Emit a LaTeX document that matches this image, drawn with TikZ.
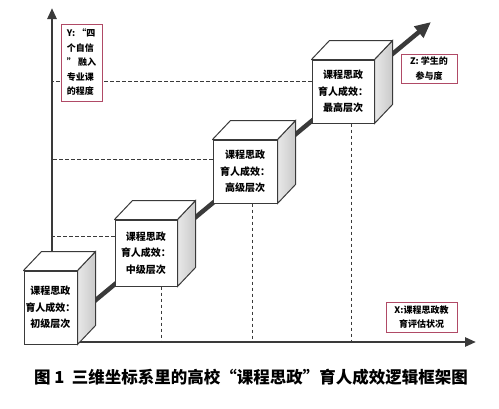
\documentclass[tikz,border=0pt]{standalone}
\usepackage{fontspec}
\usepackage{xcolor}
\usepackage{tikz}
\usetikzlibrary{positioning, arrows.meta, calc}
\newfontfamily\cjk{Noto Sans CJK SC}
\definecolor{axisgray}{HTML}{3A3A3A}
\definecolor{boxred}{HTML}{B04A66}

\begin{document}
\begin{tikzpicture}[
    x=1pt, y=-1pt,
    axis/.style={draw=axisgray, line width=2.6pt, -{Triangle[length=11pt,width=9pt]}},
    zaxis/.style={draw=axisgray, line width=4.5pt, -{Triangle[length=16pt,width=14pt]}},
    guide/.style={draw=axisgray, line width=0.7pt, dash pattern=on 3.5pt off 2.5pt},
    front/.style={draw=axisgray, line width=1pt, fill=white, inner sep=0pt, align=center,
        font=\cjk\bfseries\fontsize{10}{16.5}\selectfont},
    side/.style={draw=axisgray, line width=1pt, left color=gray!18, right color=gray!42},
    topf/.style={draw=axisgray, line width=1pt, fill=white, line join=round},
    label/.style={draw=boxred, line width=0.9pt, fill=white, inner sep=0pt,
        font=\cjk\bfseries\fontsize{9}{14.5}\selectfont}
]
\useasboundingbox (0,0) rectangle (499,408);

% axes
\coordinate (O) at (52,342);
\coordinate (ytip) at (52,8);
\coordinate (xtip) at (476,342);
\coordinate (zstart) at (56,333);
\coordinate (ztip) at (431,22);
\draw[axis] (O) -- (ytip);
\draw[axis] ([xshift=-1.3pt]O) -- (xtip);
\draw[zaxis] (zstart) -- (ztip);

% cubes (front faces)
\node[front, minimum width=53pt, minimum height=73pt] (c1) at (50.5,307.5) {课程思政\\育人成效：\\初级层次};
\node[front, minimum width=62pt, minimum height=66pt] (c2) at (146,253) {课程思政\\育人成效：\\中级层次};
\node[front, minimum width=64pt, minimum height=63pt] (c3) at (245,171.5) {课程思政\\育人成效：\\高级层次};
\node[front, minimum width=62pt, minimum height=63pt] (c4) at (343,91.5) {课程思政\\育人成效：\\最高层次};

\foreach \c in {c1,c2,c3,c4} {
    \draw[side] (\c.north east) -- ++(18,-19) -- ($(\c.south east)+(18,-19)$) -- (\c.south east) -- cycle;
    \draw[topf] (\c.north west) -- ++(18,-19) -- ($(\c.north east)+(18,-19)$) -- (\c.north east) -- cycle;
}

% dashed guides
\draw[guide] ([yshift=-17pt]c2.north west) -- ([yshift=-17pt]c2.north west -| O);
\draw[guide] ([yshift=-20pt]c3.north west) -- ([yshift=-20pt]c3.north west -| O);
\draw[guide] ([yshift=-22pt]c4.north west) -- ([yshift=-22pt]c4.north west -| O);
\draw[guide] ([xshift=47pt]c2.south west) -- ([xshift=47pt]c2.south west |- O);
\draw[guide] ([xshift=40pt]c3.south west) -- ([xshift=40pt]c3.south west |- O);
\draw[guide] ([xshift=40pt]c4.south west) -- ([xshift=40pt]c4.south west |- O);

% axis labels
\node[label, minimum width=41pt, minimum height=77pt, align=left] (ylab) at (81.5,62.5)
    {Y: “四\\个自信\\” 融入\\专业课\\的程度};
\node[label, minimum width=56pt, minimum height=29pt, align=center] (zlab) at (429,68.5)
    {Z: 学生的\\参与度};
\node[label, minimum width=71pt, minimum height=30pt, align=center] (xlab) at (421.5,317)
    {X:课程思政教\\育评估状况};

% caption
\node[font=\cjk\bfseries\fontsize{16.5}{19}\selectfont, inner sep=0pt] (cap) at (251,377)
    {图 1\ \ 三维坐标系里的高校“课程思政”育人成效逻辑框架图};
\end{tikzpicture}
\end{document}
